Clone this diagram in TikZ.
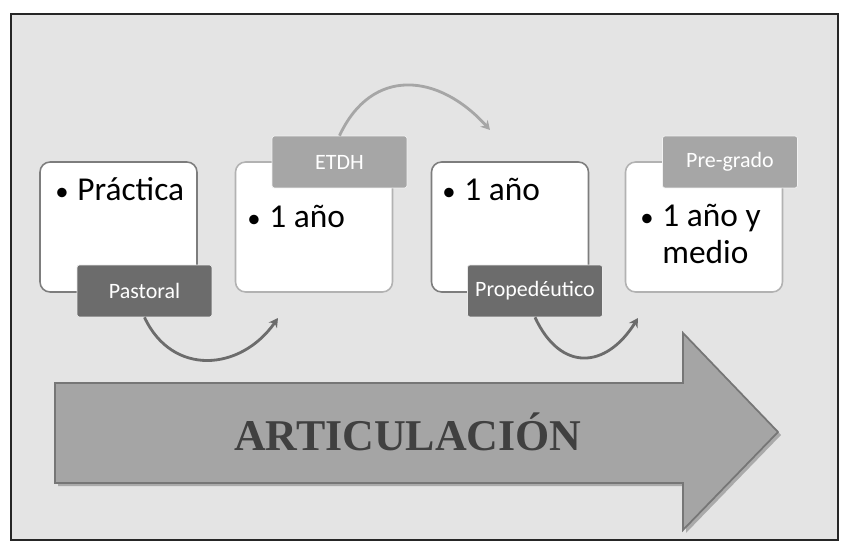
\documentclass[tikz,border=0pt]{standalone}
\usepackage{fontspec}
\setmainfont{Carlito}
\newfontfamily\titulo{Liberation Serif}
\usetikzlibrary{arrows.meta, positioning}
\definecolor{fondo}{RGB}{228,228,228}
\definecolor{bordeosc}{RGB}{125,125,125}
\definecolor{bordecla}{RGB}{178,178,178}
\definecolor{tabosc}{RGB}{108,108,108}
\definecolor{tabcla}{RGB}{166,166,166}
\definecolor{flecha}{RGB}{165,165,165}
\definecolor{flechaborde}{RGB}{118,118,118}
\definecolor{letra}{RGB}{64,64,64}
\newcommand{\vineta}{\makebox[0.72em][l]{\hspace{0.06em}\scalebox{0.8}{\textbullet}}}

\begin{document}
\begin{tikzpicture}[
    x=0.02cm, y=0.02cm,
    caja/.style={draw=#1, line width=0.9pt, fill=white, rounded corners=0.2cm, minimum width=3.14cm, minimum height=2.6cm},
    etiqueta/.style={fill=#1, draw=white!85!#1, line width=0.4pt, minimum width=2.7cm, minimum height=1.04cm, text=white, font=\fontsize{12.5}{14}\selectfont, rounded corners=0.05cm},
    texto/.style={anchor=base west, inner sep=0pt, align=left, font=\fontsize{19}{20.5}\selectfont},
    curva/.style={-{Stealth[length=1.8mm, width=2mm]}, line width=1.6pt}
]
    \useasboundingbox (0,0) rectangle (850,-545);
    \draw[fill=fondo, draw=black!85, line width=0.8pt] (11,-14) rectangle (838,-540);

    % Cajas
    \node[caja=bordeosc] (c1) at (118.5,-227) {};
    \node[caja=bordecla] (c2) at (314,-227) {};
    \node[caja=bordeosc] (c3) at (510,-227) {};
    \node[caja=bordecla] (c4) at (704,-227) {};

    \node[texto] (t1) at (53,-200) {\vineta Práctica};
    \node[texto] (t2) at (245,-227) {\vineta 1 año};
    \node[texto] (t3) at (440,-200) {\vineta 1 año};
    \node[texto] (t4) at (638,-263) {\vineta 1 año y\\\hspace*{0.72em}medio};

    % Etiquetas
    \node[etiqueta=tabosc] (past) at (144.5,-291) {Pastoral};
    \node[etiqueta=tabcla] (etdh) at (339.5,-162) {ETDH};
    \node[etiqueta=tabosc] (prop) at (535,-291) {Propedéutico};
    \node[etiqueta=tabcla] (preg) at (730,-162) {Pre-grado};

    % Curvas
    \coordinate (f1) at (278,-318);
    \coordinate (f2) at (490,-130);
    \coordinate (f3) at (638,-318);
    \draw[curva, tabosc] (past.south) to[out=-65, in=-125, looseness=1.25] (f1);
    \draw[curva, tabcla] (etdh.north) to[out=65, in=132, looseness=1.3] (f2);
    \draw[curva, tabosc] (prop.south) to[out=-65, in=-122, looseness=1.5] (f3);

    % Flecha grande
    \fill[black, opacity=0.25] (58,-386) -- (686,-386) -- (686,-336) -- (781,-435) -- (686,-533) -- (686,-486) -- (58,-486) -- cycle;
    \draw[fill=flecha, draw=flechaborde, line width=1pt] (55,-383) -- (683,-383) -- (683,-333) -- (778,-432) -- (683,-530) -- (683,-483) -- (55,-483) -- cycle;
    \node[font=\titulo\bfseries\fontsize{25}{30}\selectfont, text=letra] (art) at (408,-432) {ARTICULACIÓN};
\end{tikzpicture}
\end{document}
